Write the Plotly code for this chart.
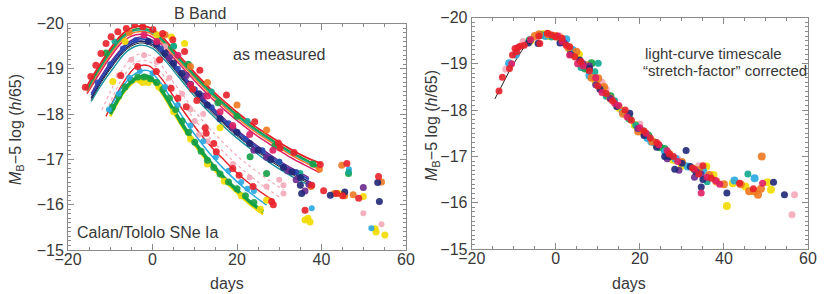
import plotly.graph_objects as go

# ---------------- LEFT PANEL: template fits "as measured" ----------------
A_DAYS = [-16, -13, -10, -7, -4, -1, 2, 5, 8, 11, 14, 17, 20, 24, 28, 32, 36, 40]
A2_DAYS = [-15.5, -13, -10, -7, -4, -1, 2, 5, 8, 11, 14, 17, 20, 24, 28, 32, 36, 39.5]
RED_TOP_MAGS = [-18.54, -19.01, -19.44, -19.78, -19.93, -19.92, -19.73, -19.42, -19.12, -18.81, -18.53, -18.28, -18.04, -17.75, -17.5, -17.26, -17.06, -16.9]
GREEN_A_MAGS = [-18.55, -18.96, -19.39, -19.73, -19.88, -19.87, -19.68, -19.37, -19.07, -18.76, -18.48, -18.23, -17.99, -17.7, -17.45, -17.21, -17.01, -16.84]
ORANGE_A_MAGS = [-18.48, -18.89, -19.32, -19.66, -19.81, -19.8, -19.61, -19.3, -19.0, -18.69, -18.41, -18.16, -17.92, -17.63, -17.38, -17.14, -16.94, -16.77]
TEAL_A_MAGS = [-18.52, -18.93, -19.36, -19.7, -19.85, -19.84, -19.65, -19.34, -19.04, -18.73, -18.45, -18.2, -17.96, -17.67, -17.42, -17.18, -16.98, -16.8]
MAGENTA_A_MAGS = [-18.45, -18.83, -19.26, -19.6, -19.75, -19.74, -19.55, -19.24, -18.94, -18.63, -18.35, -18.1, -17.86, -17.57, -17.32, -17.08, -16.88, -16.71]

B_DAYS = [-14.5, -12, -9, -6, -3, 0, 3, 6, 9, 12, 15, 18, 22, 26, 30, 34, 37]
BLUE_B_MAGS = [-18.42, -18.82, -19.22, -19.53, -19.66, -19.59, -19.32, -18.98, -18.64, -18.32, -18.04, -17.77, -17.46, -17.18, -16.93, -16.71, -16.56]
NAVY_B_MAGS = [-18.36, -18.76, -19.16, -19.48, -19.61, -19.54, -19.27, -18.93, -18.59, -18.27, -17.99, -17.72, -17.41, -17.13, -16.88, -16.66, -16.51]
PURPLE_B_MAGS = [-18.46, -18.86, -19.26, -19.57, -19.7, -19.63, -19.36, -19.02, -18.68, -18.36, -18.08, -17.81, -17.5, -17.22, -16.97, -16.75, -16.6]
BLACK_B_MAGS = [-18.32, -18.72, -19.12, -19.44, -19.57, -19.5, -19.23, -18.89, -18.55, -18.23, -17.95, -17.68, -17.37, -17.09, -16.84, -16.62, -16.47]
DTEAL_B_MAGS = [-18.28, -18.66, -19.05, -19.39, -19.52, -19.45, -19.18, -18.84, -18.5, -18.18, -17.9, -17.63, -17.32, -17.04, -16.79, -16.57, -16.44]

PINK1_DAYS = [-12, -10, -8, -5, -2, 1, 4, 7, 10, 13, 16, 20, 24, 28, 31]
PINK1_MAGS = [-18.09, -18.49, -18.84, -19.23, -19.34, -19.19, -18.82, -18.45, -18.06, -17.74, -17.44, -17.08, -16.78, -16.51, -16.33]
PINK2_DAYS = [-11, -9, -7, -4, -1, 2, 5, 8, 11, 14, 17, 21, 25, 30]
PINK2_MAGS = [-18.06, -18.46, -18.81, -19.14, -19.17, -18.92, -18.52, -18.12, -17.76, -17.43, -17.15, -16.8, -16.5, -16.17]
RED_C_DAYS = [-11, -9, -7, -4, -1, 2, 5, 8, 11, 14, 17, 20, 24, 28.6]
RED_C_MAGS = [-17.95, -18.35, -18.68, -19.03, -19.07, -18.8, -18.39, -17.98, -17.6, -17.27, -16.98, -16.7, -16.39, -16.09]
CYAN_C_DAYS = [-10.5, -8.5, -6.5, -4, -1, 2, 5, 8, 11, 14, 17, 20, 23, 27]
CYAN_C_MAGS = [-18.05, -18.4, -18.68, -18.9, -18.96, -18.68, -18.25, -17.81, -17.43, -17.08, -16.78, -16.51, -16.27, -15.99]
GREEN_C_DAYS = [-10, -8, -6, -4, -1, 2, 5, 8, 11, 14, 17, 20, 23, 26.2]
GREEN_C_MAGS = [-18.0, -18.35, -18.62, -18.78, -18.83, -18.54, -18.09, -17.64, -17.25, -16.9, -16.59, -16.32, -16.07, -15.84]
YELLOW_C_MAGS = [-17.95, -18.3, -18.57, -18.73, -18.78, -18.49, -18.03, -17.58, -17.19, -16.84, -16.53, -16.26, -16.01, -15.79]

# ---------------- LEFT PANEL: measured points ----------------
L_RED_DAYS = [-15.9, -14.6, -13.4, -12.2, -11, -9.8, -8.2, -6.2, -4.3, -2.3, 0.1, 2.4, 4.8, 7.6, 11.2, 17.5, 24.2, 29.8, 30.2, 39.7,
              0.9, 4.4, 8, 12.7, 15.1, 23.8, 28.2, 28.6, 36.1, 37.7, 40.5, 46, 43.6, 45, 48.8, 53.5, 9.5, 10.5, 12.5, 1.7,
              -3.5, 6, 14.5, 20.5, 33.5, -7.5, 19]
L_RED_MAGS = [-18.59, -18.83, -19.08, -19.34, -19.56, -19.71, -19.82, -19.89, -19.97, -19.93, -19.87, -19.78, -19.64, -19.38, -18.97, -18.42, -17.83, -17.36, -17.25, -16.89,
              -18.94, -18.57, -18.16, -17.58, -17.17, -16.4, -16.07, -16.0, -15.88, -16.43, -16.31, -16.91, -16.25, -16.2, -16.14, -16.62, -18.55, -18.3, -17.7, -19.2,
              -19.05, -18.35, -17.35, -16.65, -17.15, -18.85, -16.8]
L_GREEN_DAYS = [-9.5, -8, -6.5, -5, -3.5, -2, -0.5, 1, 2.5, 4, 5.5, 7, 8.5, 10, 11.5, 13, 14.5, 16, 18, 20, 22, 24,
                8.5, 20, 29, 38, 46.4, 5, 27, 23.1, -11, 15.5]
L_GREEN_MAGS = [-18.15, -18.4, -18.6, -18.75, -18.82, -18.82, -18.78, -18.7, -18.55, -18.35, -18.1, -17.85, -17.6, -17.38, -17.18, -16.98, -16.82, -16.68, -16.5, -16.35, -16.2, -16.05,
                -19.1, -17.95, -17.3, -16.9, -16.69, -19.5, -16.69, -17.06, -19.35, -18.25]
L_YELLOW_DAYS = [-3, -1, 1.5, 5, 9, 13, 17, 21, 25.5, 27, -9.4, -2.3, 7.6, 1, 4.5,
                 36.1, 37.3, 36.8, 44, 49.9, 52.9, 52.7, 55, 45, -6.5, 16]
L_YELLOW_MAGS = [-18.75, -18.7, -18.6, -18.05, -17.45, -16.9, -16.52, -16.2, -15.9, -16.1, -18.72, -18.7, -19.56, -19.75, -19.7,
                 -15.66, -15.62, -15.7, -16.25, -16.18, -15.4, -15.47, -15.33, -16.23, -19.6, -17.7]
L_ORANGE_DAYS = [3, 13, 27, 39.5, 44.8, 45.5, 47.5, 54.2, 37.5, 43, 20, -5.5, 9]
L_ORANGE_MAGS = [-19.75, -18.7, -17.65, -16.78, -16.87, -16.2, -16.22, -16.5, -16.4, -16.25, -18.2, -19.8, -19.05]
L_TEAL_DAYS = [5, 22.5, 46.4, 14, 30, -9, 35]
L_TEAL_MAGS = [-19.5, -17.85, -16.72, -18.5, -16.95, -19.6, -16.7]
L_CYAN_DAYS = [-10.3, -8, -5.5, -3, 0, 3, 6, 9, 12, 15, 18, 21, 22.5, 24, 37.7, 51.8, 46.5]
L_CYAN_MAGS = [-18.1, -18.45, -18.8, -18.95, -18.9, -18.6, -18.2, -17.75, -17.4, -17.05, -16.75, -16.5, -16.35, -16.3, -15.92, -15.48, -16.78]
L_BLUE_DAYS = [-13, -10, -7, -4, 2, 6, 10, 14, 18, 22, 26, 30, 34]
L_BLUE_MAGS = [-18.7, -19.1, -19.45, -19.63, -19.45, -19.0, -18.55, -18.15, -17.8, -17.45, -17.2, -16.95, -16.72]
L_NAVY_DAYS = [-1, 1, 3, 5, 7, 9, 11, 20, 23, 25, 28, 31, 33, 35, 35.3, 35, 42.1, 45.5, 53.3, 53.7, 13, 16]
L_NAVY_MAGS = [-19.6, -19.55, -19.35, -19.12, -18.9, -18.66, -18.45, -17.6, -17.35, -17.2, -17.0, -16.82, -16.72, -16.6, -16.25, -16.43, -16.21, -16.28, -16.49, -16.07, -18.2, -17.9]
L_PURPLE_DAYS = [4, 8, 24, 27, 32, 36.1, 37, 49.9, 34, 12, 19]
L_PURPLE_MAGS = [-19.25, -18.85, -17.2, -17.05, -16.75, -16.3, -16.45, -16.38, -16.55, -18.4, -17.7]
L_PINK_DAYS = [-8, -5, -2, 1, 4, 7, 9, 10, 11, 13, 15, 19, 23, 27, 31, 31, 30, 49.9, 54.2, 3, 12]
L_PINK_MAGS = [-18.85, -19.2, -19.3, -19.15, -18.8, -18.45, -18.1, -17.85, -17.55, -17.4, -17.15, -16.9, -16.6, -16.4, -16.43, -16.25, -16.55, -15.81, -15.57, -19.5, -18.0]
L_MAGENTA_DAYS = [-2, 6, 13, 19, 23, 28.5, 9, 1, 16]
L_MAGENTA_MAGS = [-19.75, -19.3, -18.4, -17.75, -17.55, -17.2, -18.65, -19.6, -18.05]

# ---------------- RIGHT PANEL: stretch-corrected ----------------
TEMPLATE_DAYS = [-14.5, -13, -11, -9, -7, -5, -3, -1, 1, 3, 5, 7, 9, 11, 13, 15, 17, 20, 23, 26, 29, 32, 35, 38, 40]
TEMPLATE_MAGS = [-18.24, -18.5, -18.85, -19.15, -19.42, -19.58, -19.64, -19.62, -19.5, -19.3, -19.07, -18.85, -18.62, -18.4, -18.2, -18.02, -17.83, -17.6, -17.36, -17.16, -16.98, -16.8, -16.64, -16.5, -16.42]

R_RED_DAYS = [-13.5, -12.7, -10.3, -9.3, -9.7, -8.5, -4, -3.8, -1, 1.5, 3.3, 6, 8, 12, 16.5, 21, 24, 27, 37, 43.7, 35, 47,
              -11, -7.5, -2, 0, 2.5, 4.5, 10, 13.5, 18, 22.5, 28, 32.5, 34]
R_RED_MAGS = [-18.41, -18.71, -19.19, -19.26, -19.33, -19.38, -19.6, -19.44, -19.62, -19.55, -19.37, -19.05, -18.85, -18.36, -18.0, -17.55, -17.3, -17.05, -16.53, -16.42, -16.8, -16.3,
              -18.9, -19.4, -19.66, -19.58, -19.4, -19.15, -18.52, -18.2, -17.78, -17.4, -17.0, -16.75, -16.62]
R_MAGENTA_DAYS = [-9, 0.5, 3.3, 5.2, 9.5, 15, 21.5, 29, 34.6, 36, 49.2, 39,
                  -10.5, -6, 1.5, 6.5, 11, 14, 17, 20, 24.5, 26.5, 33, 38]
R_MAGENTA_MAGS = [-19.35, -19.6, -19.19, -19.0, -18.7, -18.1, -17.5, -16.89, -16.21, -16.55, -16.42, -16.4,
                  -19.0, -19.52, -19.48, -18.95, -18.38, -18.15, -17.85, -17.62, -17.25, -17.12, -16.72, -16.48]
R_ORANGE_DAYS = [-5, -1.8, 4.9, 7.3, 10.1, 11.5, 19.6, 24.3, 38.2, 46, 47.2, 48.1, 48.8, 49, 36.5,
                 -4, 0, 3, 8.5, 13, 16, 21, 23, 27, 30, 34, 40, 44]
R_ORANGE_MAGS = [-19.6, -19.64, -19.26, -18.97, -18.69, -18.5, -17.54, -17.25, -16.46, -16.25, -16.25, -16.17, -16.3, -17.0, -16.6,
                 -19.64, -19.6, -19.35, -18.7, -18.25, -17.92, -17.5, -17.32, -17.05, -16.88, -16.7, -16.4, -16.4]
R_YELLOW_DAYS = [-3, -0.5, 5.5, 12.5, 18.8, 27.9, 35.8, 40.7, 42.1, 45.1, 50.4, 51.2, 30,
                 -6, -2, 1, 4, 9.5, 15, 21.5, 24, 33, 37.5]
R_YELLOW_MAGS = [-19.64, -19.6, -19.2, -18.3, -17.68, -16.93, -16.78, -15.93, -16.42, -16.35, -16.44, -16.28, -16.8,
                 -19.5, -19.6, -19.55, -19.2, -18.6, -18.05, -17.45, -17.25, -16.72, -16.6]
R_GREEN_DAYS = [-6.2, 8.5, 25.9, 22, 13, -3.5, 3.5, 7, 11, 17.5, 24.8, 20.5]
R_GREEN_MAGS = [-19.51, -19.01, -17.16, -17.45, -18.3, -19.62, -19.3, -18.9, -18.45, -17.82, -17.2, -17.55]
R_TEAL_DAYS = [9.3, 10.1, 45.7, 14, 36, -1, 6, 12, 19, 27.5, 33]
R_TEAL_MAGS = [-18.83, -19.01, -16.62, -18.2, -16.45, -19.58, -18.92, -18.3, -17.68, -17.0, -16.7]
R_CYAN_DAYS = [-11.1, 2.5, 22.7, 21.8, 31.4, 47.3, 42.5, 26, -9.5, -2.5, 4, 8, 16, 23.5, 28.5, 35]
R_CYAN_MAGS = [-19.01, -19.53, -17.32, -17.4, -16.78, -16.53, -16.48, -17.1, -19.2, -19.6, -19.3, -18.75, -17.95, -17.3, -16.95, -16.7]
R_NAVY_DAYS = [-4.2, 5.7, 17.6, 25.9, 28.3, 31, 33.4, 35, 34.6, 40.7, 51.8, 54.4, 8,
               -6.5, 1, 3.5, 10.5, 14.5, 21, 24, 27, 30, 32]
R_NAVY_MAGS = [-19.44, -19.08, -17.93, -17.0, -16.72, -17.13, -16.67, -16.5, -16.34, -16.21, -16.44, -16.17, -18.9,
               -19.45, -19.45, -19.2, -18.45, -18.08, -17.45, -17.2, -17.0, -16.85, -16.78]
R_PURPLE_DAYS = [8, 29.3, 34.5, 6.5, 2, 9.5, 13, 19.5, 26.5, 33]
R_PURPLE_MAGS = [-18.95, -16.7, -16.62, -19.0, -19.45, -18.55, -18.25, -17.6, -16.95, -16.55]
R_PINK_DAYS = [-11.9, -7.8, 11, 15.5, 12, 34, 56.8, 56.2, 20, -9.5, -4.5, 1, 5, 9, 17, 23, 29, 36]
R_PINK_MAGS = [-18.88, -19.48, -18.6, -18.0, -18.45, -16.8, -16.17, -15.74, -17.7, -19.2, -19.55, -19.6, -19.1, -18.7, -17.9, -17.3, -16.95, -16.55]

Y_TICKS = [-20, -19, -18, -17, -16, -15]
Y_TICK_TEXT = ["\u221220", "\u221219", "\u221218", "\u221217", "\u221216", "\u221215"]
X_TICKS = [-20, 0, 20, 40, 60]
X_TICK_TEXT = ["\u221220", "0", "20", "40", "60"]

RED = "#e8202a"; GREEN = "#14a046"; ORANGE = "#f07820"; TEAL = "#10a890"
MAGENTA = "#e01e64"; BLUE = "#2a48b0"; NAVY = "#202878"; PURPLE = "#6a2a90"
BLACK = "#222222"; DTEAL = "#1890a0"; PINK = "#f4a8b8"; CYAN = "#28a8e0"; YELLOW = "#f2dc00"

fig = go.Figure()

curves = [
    (PINK1_DAYS, PINK1_MAGS, PINK, 1.2, "dot", "x", "y"),
    (PINK2_DAYS, PINK2_MAGS, PINK, 1.2, "dot", "x", "y"),
    (RED_C_DAYS, RED_C_MAGS, RED, 1.4, "solid", "x", "y"),
    (GREEN_C_DAYS, YELLOW_C_MAGS, YELLOW, 2.5, "solid", "x", "y"),
    (GREEN_C_DAYS, GREEN_C_MAGS, GREEN, 3.5, "solid", "x", "y"),
    (CYAN_C_DAYS, CYAN_C_MAGS, CYAN, 1.5, "solid", "x", "y"),
    (B_DAYS, DTEAL_B_MAGS, DTEAL, 1.4, "solid", "x", "y"),
    (B_DAYS, BLACK_B_MAGS, BLACK, 1.0, "solid", "x", "y"),
    (B_DAYS, NAVY_B_MAGS, NAVY, 1.6, "solid", "x", "y"),
    (B_DAYS, PURPLE_B_MAGS, PURPLE, 1.4, "solid", "x", "y"),
    (B_DAYS, BLUE_B_MAGS, BLUE, 1.8, "solid", "x", "y"),
    (A2_DAYS, MAGENTA_A_MAGS, MAGENTA, 1.5, "solid", "x", "y"),
    (A2_DAYS, ORANGE_A_MAGS, ORANGE, 1.5, "solid", "x", "y"),
    (A2_DAYS, TEAL_A_MAGS, TEAL, 1.5, "solid", "x", "y"),
    (A2_DAYS, GREEN_A_MAGS, GREEN, 1.6, "solid", "x", "y"),
    (A_DAYS, RED_TOP_MAGS, RED, 1.8, "solid", "x", "y"),
    (TEMPLATE_DAYS, TEMPLATE_MAGS, BLACK, 1.0, "solid", "x2", "y2"),
]
for d, m, c, w, dash, xa, ya in curves:
    fig.add_trace(go.Scatter(x=d, y=m, mode="lines", xaxis=xa, yaxis=ya,
                             line=dict(color=c, width=w, dash=dash, shape="spline", smoothing=1.0),
                             hoverinfo="skip", showlegend=False))

points = [
    (L_PINK_DAYS, L_PINK_MAGS, PINK, 6, "x", "y"),
    (L_YELLOW_DAYS, L_YELLOW_MAGS, YELLOW, 7, "x", "y"),
    (L_GREEN_DAYS, L_GREEN_MAGS, GREEN, 7, "x", "y"),
    (L_CYAN_DAYS, L_CYAN_MAGS, CYAN, 6, "x", "y"),
    (L_TEAL_DAYS, L_TEAL_MAGS, TEAL, 6, "x", "y"),
    (L_ORANGE_DAYS, L_ORANGE_MAGS, ORANGE, 7, "x", "y"),
    (L_BLUE_DAYS, L_BLUE_MAGS, BLUE, 6, "x", "y"),
    (L_PURPLE_DAYS, L_PURPLE_MAGS, PURPLE, 7, "x", "y"),
    (L_NAVY_DAYS, L_NAVY_MAGS, NAVY, 7, "x", "y"),
    (L_MAGENTA_DAYS, L_MAGENTA_MAGS, MAGENTA, 7, "x", "y"),
    (L_RED_DAYS, L_RED_MAGS, RED, 7, "x", "y"),
    (R_PINK_DAYS, R_PINK_MAGS, PINK, 7, "x2", "y2"),
    (R_YELLOW_DAYS, R_YELLOW_MAGS, YELLOW, 8, "x2", "y2"),
    (R_GREEN_DAYS, R_GREEN_MAGS, GREEN, 8, "x2", "y2"),
    (R_TEAL_DAYS, R_TEAL_MAGS, TEAL, 7, "x2", "y2"),
    (R_CYAN_DAYS, R_CYAN_MAGS, CYAN, 8, "x2", "y2"),
    (R_ORANGE_DAYS, R_ORANGE_MAGS, ORANGE, 8, "x2", "y2"),
    (R_PURPLE_DAYS, R_PURPLE_MAGS, PURPLE, 7, "x2", "y2"),
    (R_NAVY_DAYS, R_NAVY_MAGS, NAVY, 7, "x2", "y2"),
    (R_MAGENTA_DAYS, R_MAGENTA_MAGS, MAGENTA, 7, "x2", "y2"),
    (R_RED_DAYS, R_RED_MAGS, RED, 7, "x2", "y2"),
]
for d, m, c, s, xa, ya in points:
    fig.add_trace(go.Scatter(x=d, y=m, mode="markers", xaxis=xa, yaxis=ya,
                             marker=dict(color=c, size=s, opacity=0.9, line=dict(width=0)),
                             hoverinfo="skip", showlegend=False))

FONT = "Liberation Sans, Arial, sans-serif"
TXT = "#383838"
FRAME = "#8a8a8a"

xcommon = dict(range=[-20, 60], tickmode="array", tickvals=X_TICKS, ticktext=X_TICK_TEXT,
               ticks="inside", ticklen=6, tickcolor=FRAME, showline=True, linecolor=FRAME, linewidth=1,
               mirror="ticks", showgrid=False, zeroline=False, ticklabelstandoff=-5,
               minor=dict(dtick=5, tick0=0, ticks="inside", ticklen=3, tickcolor=FRAME),
               tickfont=dict(family=FONT, size=16, color=TXT), automargin=False)
ycommon = dict(range=[-15, -20], tickmode="array", tickvals=Y_TICKS, ticktext=Y_TICK_TEXT,
               ticks="inside", ticklen=6, tickcolor=FRAME, showline=True, linecolor=FRAME, linewidth=1,
               mirror="ticks", showgrid=False, zeroline=False,
               minor=dict(dtick=0.1, tick0=0, ticks="inside", ticklen=3, tickcolor=FRAME),
               tickfont=dict(family=FONT, size=16, color=TXT), automargin=False)

W, H = 830, 294
fig.update_layout(
    width=W, height=H, margin=dict(l=0, r=0, t=0, b=0),
    paper_bgcolor="white", plot_bgcolor="white", showlegend=False,
    xaxis=dict(domain=[68 / W, 406 / W], anchor="y", **xcommon),
    yaxis=dict(domain=[1 - 250 / H, 1 - 23.5 / H], anchor="x", **ycommon),
    xaxis2=dict(domain=[471.7 / W, 808 / W], anchor="y2", **xcommon),
    yaxis2=dict(domain=[1 - 249 / H, 1 - 17.5 / H], anchor="x2", **ycommon),
)

def ann(text, px, py, size=16, angle=0, xanchor="center"):
    fig.add_annotation(text=text, x=px / W, y=1 - py / H, xref="paper", yref="paper",
                       showarrow=False, textangle=angle, xanchor=xanchor, yanchor="middle",
                       font=dict(family=FONT, size=size, color=TXT))

ann("B Band", 200, 13)
ann("as measured", 279, 55)
ann("Calan/Tololo SNe Ia", 148, 232)
ann("light-curve timescale", 643, 54, size=15, xanchor="left")
ann("\u201cstretch-factor\u201d corrected", 641, 71, size=15, xanchor="left")
ytitle = "<i>M</i><sub>B</sub>\u22125 log (<i>h</i>/65)"
ann(ytitle, 16, 130, size=16, angle=-90)
ann(ytitle, 432, 126, size=16, angle=-90)
ann("days", 227, 283)
ann("days", 629, 283)

fig.write_html("out.html", config={"displayModeBar": False},
               post_script="document.body.style.margin='0px';")
